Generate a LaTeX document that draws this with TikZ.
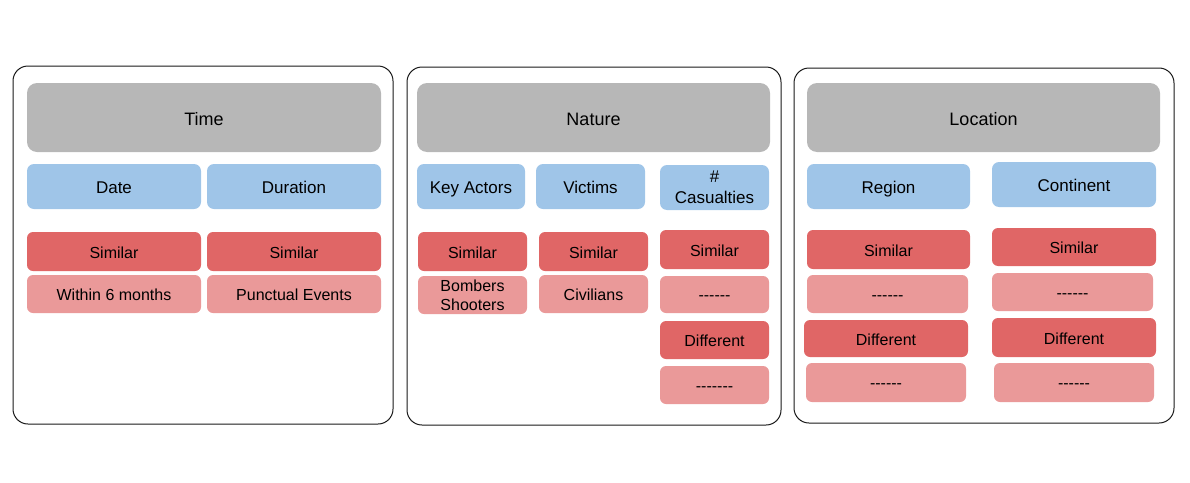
\documentclass[tikz,border=0pt]{standalone}
\usepackage{fontspec}
\setmainfont{Liberation Sans}
\definecolor{hgray}{HTML}{B7B7B7}
\definecolor{hblue}{HTML}{9FC5E8}
\definecolor{hred}{HTML}{E06666}
\definecolor{hpink}{HTML}{EA9999}
\newcommand\hy{-\kern0pt}
\newcommand\bx[7]{\node[#2, minimum width={#5-#3}, minimum height={#6-#4}] (#1) at ({(#3+#5)/2},{(#4+#6)/2}) {#7};}
\tikzset{
  panel/.style={draw=black!90, line width=1pt, rounded corners=15pt, fill=none},
  base/.style={inner sep=0pt, align=center, text=black},
  titlebox/.style={base, text height=18pt, text depth=3pt, fill=hgray, rounded corners=10pt, font=\fontsize{18}{21}\selectfont},
  keyfill/.style={base, fill=hblue, rounded corners=7pt, font=\fontsize{17}{20}\selectfont},
  keybox/.style={keyfill, text height=17pt, text depth=3.4pt},
  simbox/.style={base, text height=16pt, text depth=2.4pt, fill=hred, rounded corners=6pt, font=\fontsize{16}{19}\selectfont},
  valfill/.style={base, fill=hpink, rounded corners=6pt, font=\fontsize{16}{19}\selectfont},
  valbox/.style={valfill, text height=16pt, text depth=4pt},
}
\begin{document}
\begin{tikzpicture}[x=1pt,y=-1pt]
\useasboundingbox (0,0) rectangle (1190,482);
% panels
\draw[panel] (13,66) rectangle (393,424);
\draw[panel] (407,67) rectangle (781,425);
\draw[panel] (794,68) rectangle (1174,423);
% Time
\bx{time}{titlebox}{27}{83}{381}{152}{Time}
\bx{date}{keybox}{27}{164}{201}{209}{Date}
\bx{duration}{keybox}{207}{164}{381}{209}{Duration}
\bx{simdate}{simbox}{27}{232}{201}{271}{Similar}
\bx{simdur}{simbox}{207}{232}{381}{271}{Similar}
\bx{within}{valbox}{27}{275}{201}{313}{Within 6 months}
\bx{punct}{valbox}{207}{275}{381}{313}{Punctual Events}
% Nature
\bx{nature}{titlebox}{417}{83}{770}{152}{Nature}
\bx{actors}{keybox}{417}{164}{525}{209}{Key Actors}
\bx{victims}{keybox}{536}{164}{645}{209}{Victims}
\bx{casualties}{keyfill}{660}{165}{769}{210}{\#\\[1.5pt]Casualties}
\bx{simact}{simbox}{418}{232}{527}{271}{Similar}
\bx{bombers}{valfill}{418}{276}{527}{314}{Bombers\\Shooters}
\bx{simvic}{simbox}{539}{232}{648}{271}{Similar}
\bx{civilians}{valbox}{539}{275}{648}{313}{Civilians}
\bx{simcas}{simbox}{660}{230}{769}{269}{Similar}
\bx{dashcasA}{valbox}{660}{276}{769}{313}{\hy\hy\hy\hy\hy-}
\bx{diffcas}{simbox}{660}{321}{769}{359}{Different}
\bx{dashcasB}{valbox}{660}{366}{769}{404}{\hy\hy\hy\hy\hy\hy-}
% Location
\bx{location}{titlebox}{807}{83}{1160}{152}{Location}
\bx{region}{keybox}{807}{164}{970}{209}{Region}
\bx{continent}{keybox}{992}{162}{1156}{207}{Continent}
\bx{simreg}{simbox}{807}{230}{970}{269}{Similar}
\bx{dashregA}{valbox}{807}{275}{968}{313}{\hy\hy\hy\hy\hy-}
\bx{diffreg}{simbox}{804}{320}{968}{357}{Different}
\bx{dashregB}{valbox}{806}{363}{966}{402}{\hy\hy\hy\hy\hy-}
\bx{simcon}{simbox}{992}{228}{1156}{266}{Similar}
\bx{dashconA}{valbox}{992}{273}{1153}{311}{\hy\hy\hy\hy\hy-}
\bx{diffcon}{simbox}{992}{318}{1156}{357}{Different}
\bx{dashconB}{valbox}{994}{363}{1154}{402}{\hy\hy\hy\hy\hy-}
\end{tikzpicture}
\end{document}
